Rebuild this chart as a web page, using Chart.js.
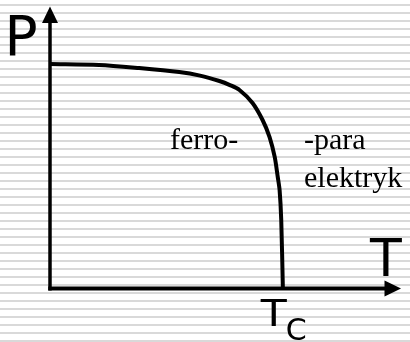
<!DOCTYPE html>
<html>
<head>
<meta charset="utf-8">
<script src="https://cdn.jsdelivr.net/npm/chart.js@4"></script>
<style>
html,body{margin:0;padding:0;background:#fff;}
#wrap{width:410px;height:342px;position:relative;}
</style>
</head>
<body>
<div id="wrap"><canvas id="c" width="410" height="342"></canvas></div>
<script>
// Temperature (relative to Tc) and polarization (relative to P at T=0)
const temperature = [0, 0.21, 0.382, 0.554, 0.643, 0.726, 0.771, 0.812, 0.868, 0.911, 0.941, 0.963, 0.976, 0.984, 0.991, 0.998];
const polarization = [1.0, 0.996, 0.982, 0.964, 0.948, 0.924, 0.906, 0.884, 0.826, 0.75, 0.674, 0.585, 0.496, 0.4375, 0.304, 0.0];
const axisMax = { T: 1.5, P: 1.25 };
const labels = { yAxis: "P", xAxis: "T", tc: "T", tcSub: "C", ferro: "ferro-", para1: "-para", para2: "elektryk" };
const TcValue = 1.0;

const points = temperature.map((t, i) => ({ x: t, y: polarization[i] }));

const stripes = {
  id: 'stripes',
  beforeDraw(chart) {
    const ctx = chart.ctx;
    ctx.save();
    ctx.fillStyle = '#ffffff';
    ctx.fillRect(0, 0, chart.width, chart.height);
    ctx.fillStyle = '#d9d9d9';
    for (let y = 4; y < chart.height; y += 8) ctx.fillRect(0, y, chart.width, 2);
    ctx.restore();
  }
};

const axesAndText = {
  id: 'axesAndText',
  afterDatasetsDraw(chart) {
    const ctx = chart.ctx;
    const xs = chart.scales.x, ys = chart.scales.y;
    const x0 = xs.getPixelForValue(0);
    const y0 = ys.getPixelForValue(0) + 0.5;
    const xEnd = xs.getPixelForValue(axisMax.T);
    const yEnd = ys.getPixelForValue(axisMax.P);
    ctx.save();
    ctx.strokeStyle = '#000';
    ctx.fillStyle = '#000';
    ctx.lineCap = 'butt';
    // y axis
    ctx.lineWidth = 3.5;
    ctx.beginPath();
    ctx.moveTo(x0, y0 + 2);
    ctx.lineTo(x0, yEnd + 12);
    ctx.stroke();
    // x axis
    ctx.lineWidth = 4;
    ctx.beginPath();
    ctx.moveTo(x0 - 1.75, y0);
    ctx.lineTo(xEnd - 12, y0);
    ctx.stroke();
    // arrow heads
    ctx.beginPath();
    ctx.moveTo(x0, yEnd - 1.5);
    ctx.lineTo(x0 - 8, yEnd + 15);
    ctx.lineTo(x0 + 8, yEnd + 15);
    ctx.closePath();
    ctx.fill();
    ctx.beginPath();
    ctx.moveTo(xEnd + 1, y0);
    ctx.lineTo(xEnd - 15.5, y0 - 8);
    ctx.lineTo(xEnd - 15.5, y0 + 8);
    ctx.closePath();
    ctx.fill();

    // texts
    ctx.textBaseline = 'alphabetic';
    ctx.textAlign = 'left';
    ctx.font = '55px "DejaVu Sans"';
    ctx.fillText(labels.yAxis, 4.5, 55);
    ctx.font = '52px "DejaVu Sans"';
    ctx.fillText(labels.xAxis, 370, 276);
    const tcx = xs.getPixelForValue(TcValue);
    ctx.save();
    ctx.translate(tcx - 22.5, 326);
    ctx.scale(1.12, 1);
    ctx.font = '38px "DejaVu Sans"';
    ctx.fillText(labels.tc, 0, 0);
    ctx.restore();
    ctx.font = '30px "DejaVu Sans"';
    ctx.fillText(labels.tcSub, tcx + 2.5, 340);
    ctx.font = '30px "Liberation Serif"';
    ctx.fillText(labels.ferro, 170, 149);
    ctx.fillText(labels.para1, 304, 149);
    ctx.fillText(labels.para2, 304, 187);
    ctx.restore();
  }
};

new Chart(document.getElementById('c'), {
  type: 'scatter',
  data: {
    datasets: [{
      data: points,
      showLine: true,
      borderColor: '#000',
      borderWidth: 4,
      pointRadius: 0,
      tension: 0.3,
      fill: false,
      clip: false
    }]
  },
  options: {
    responsive: false,
    animation: false,
    devicePixelRatio: 1,
    layout: { padding: { left: 50, right: 10, top: 8, bottom: 54 } },
    plugins: { legend: { display: false }, tooltip: { enabled: false } },
    scales: {
      x: { type: 'linear', min: 0, max: axisMax.T, display: false },
      y: { type: 'linear', min: 0, max: axisMax.P, display: false }
    }
  },
  plugins: [stripes, axesAndText]
});
</script>
</body>
</html>
